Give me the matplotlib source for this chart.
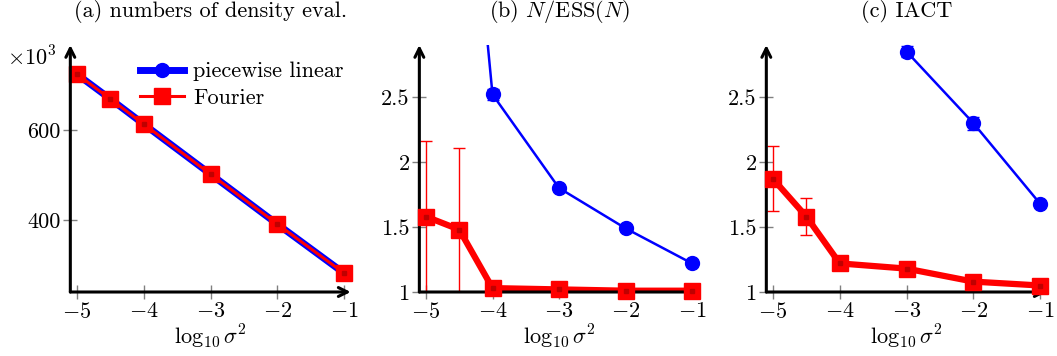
import numpy as np
import matplotlib
matplotlib.use("Agg")
import matplotlib.pyplot as plt

plt.rcParams['font.family'] = 'serif'
plt.rcParams['font.serif'] = ['cmr10', 'DejaVu Serif']
plt.rcParams['mathtext.fontset'] = 'cm'
plt.rcParams['axes.unicode_minus'] = False
plt.rcParams['font.size'] = 16

# data
log_sigma2 = [-5, -4.5, -4, -3, -2, -1]
xticks = [-5, -4, -3, -2, -1]

# (a) numbers of density evaluations, in thousands
evals_pl = [724, 669, 613, 502, 391, 282]
evals_fo = [724, 669, 613, 502, 391, 282]

# (b) N/ESS(N)
ess_x_pl = [-4.5, -4, -3, -2, -1]
ess_pl = [5.2, 2.52, 1.80, 1.49, 1.22]
ess_pl_err = [0.0, 0.04, 0.01, 0.01, 0.01]
ess_fo = [1.58, 1.48, 1.03, 1.02, 1.01, 1.01]
ess_fo_err = [0.58, 0.63, 0.0, 0.0, 0.0, 0.0]

# (c) IACT
iact_x_pl = [-3, -2, -1]
iact_pl = [2.85, 2.30, 1.68]
iact_pl_err = [0.04, 0.05, 0.01]
iact_fo = [1.87, 1.58, 1.22, 1.18, 1.08, 1.05]
iact_fo_err = [0.25, 0.14, 0.0, 0.0, 0.0, 0.0]

W, H = 1057, 356
fig = plt.figure(figsize=(W / 100, H / 100), dpi=100)


def make_axes(px_m5, px_m1):
    unit = (px_m1 - px_m5) / 4
    left = px_m5 - 0.1 * unit
    right = px_m1 + 0.1 * unit
    ax = fig.add_axes([left / W, (H - 292) / H, (right - left) / W, (292 - 45) / H])
    ax.set_xlim(-5.1, -0.9)
    for s in ax.spines.values():
        s.set_visible(False)
    for tip in [(1, 0), (0, 1)]:
        ax.annotate('', xy=tip, xytext=(0, 0), xycoords='axes fraction',
                    arrowprops=dict(arrowstyle='->', lw=2.2, color='k', shrinkA=0, shrinkB=0,
                                    mutation_scale=16), zorder=5)
    ax.set_xticks(xticks)
    ax.set_xticklabels([r'$%d$' % t for t in xticks])
    ax.tick_params(direction='inout', length=10, width=1, color='gray', labelsize=16, pad=2)
    ax.set_xlabel(r'$\log_{10}\sigma^2$', fontsize=16, labelpad=1)
    return ax


# panel (a)
ax = make_axes(77, 344)
ax.set_ylim(240, 789)
ax.set_yticks([400, 600])
ax.set_yticklabels(['400', '600'])
ax.plot(log_sigma2, evals_pl, color='blue', lw=5, marker='o', ms=10, label='piecewise linear', clip_on=False)
ax.plot(log_sigma2, evals_fo, color='red', lw=2.2, marker='s', ms=11, label='Fourier', clip_on=False)
ax.plot(log_sigma2, evals_fo, ls='none', marker='s', ms=3, color='#c00000', clip_on=False)
ax.text(-0.225, 0.95, r'$\times 10^3$', transform=ax.transAxes, fontsize=16, va='center', ha='left')
ax.legend(loc='upper right', frameon=False, fontsize=16, handlelength=2.0,
          bbox_to_anchor=(1.03, 0.995), borderaxespad=0.3, labelspacing=0.3, handletextpad=0.4)
ax.set_title('(a) numbers of density eval.', fontsize=16, pad=20)

# panel (b)
ax = make_axes(426, 692)
ax.set_ylim(1, 2.9)
ax.set_yticks([1, 1.5, 2, 2.5])
ax.set_yticklabels(['1', '1.5', '2', '2.5'])
ax.plot(ess_x_pl, ess_pl, color='blue', lw=1.8)
ax.errorbar(ess_x_pl[1:], ess_pl[1:], yerr=ess_pl_err[1:], ls='none', color='blue', lw=1, capsize=4)
ax.plot(ess_x_pl[1:], ess_pl[1:], ls='none', marker='o', ms=10, color='blue', clip_on=False)
ax.errorbar(log_sigma2, ess_fo, yerr=ess_fo_err, ls='none', color='red', lw=1, capsize=4)
ax.plot(log_sigma2, ess_fo, color='red', lw=4.5)
ax.plot(log_sigma2, ess_fo, ls='none', marker='s', ms=12, color='red', clip_on=False, zorder=6)
ax.plot(log_sigma2, ess_fo, ls='none', marker='s', ms=3, color='#c00000', clip_on=False, zorder=6)
ax.set_title(r'(b) $N/\mathrm{ESS}(N)$', fontsize=16, pad=20)

# panel (c)
ax = make_axes(773, 1040)
ax.set_ylim(1, 2.9)
ax.set_yticks([1, 1.5, 2, 2.5])
ax.set_yticklabels(['1', '1.5', '2', '2.5'])
ax.errorbar(iact_x_pl, iact_pl, yerr=iact_pl_err, color='blue', lw=1.8, capsize=4,
            marker='o', ms=10, clip_on=False)
ax.errorbar(log_sigma2, iact_fo, yerr=iact_fo_err, ls='none', color='red', lw=1, capsize=4)
ax.plot(log_sigma2, iact_fo, color='red', lw=4.5, marker='s', ms=12, clip_on=False, zorder=6)
ax.plot(log_sigma2, iact_fo, ls='none', marker='s', ms=3, color='#c00000', clip_on=False, zorder=6)
ax.set_title('(c) IACT', fontsize=16, pad=20)

fig.savefig('out.png', dpi=100)
